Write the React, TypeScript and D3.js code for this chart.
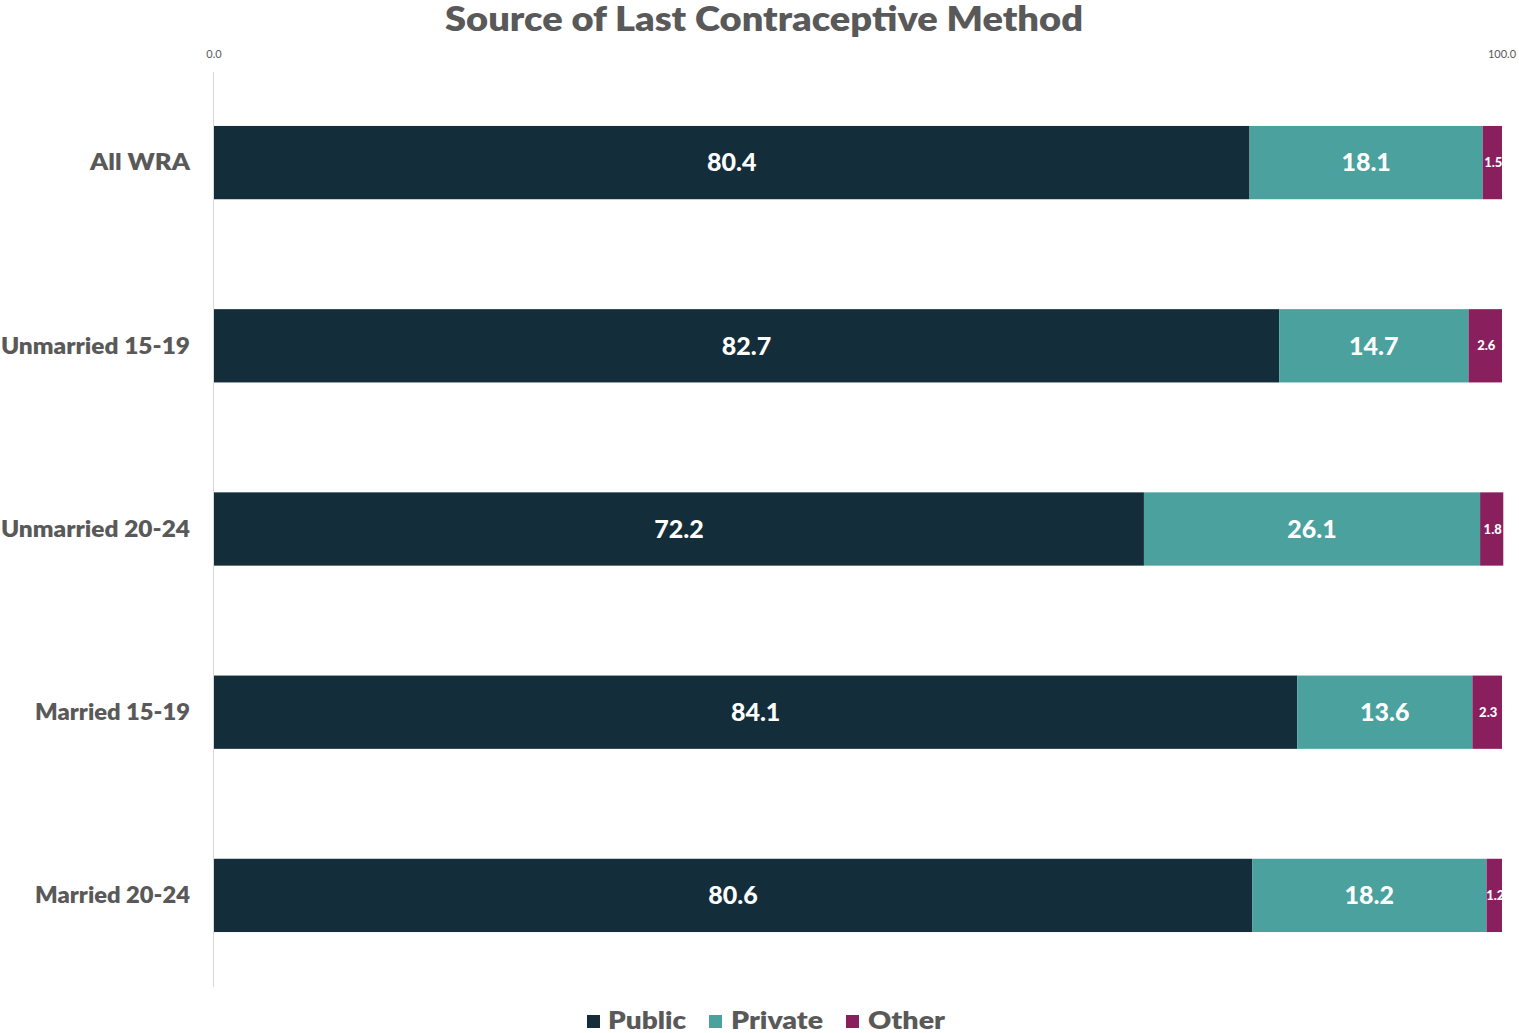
import React from "react";
import * as d3 from "d3";

const categories = ["All WRA", "Unmarried 15-19", "Unmarried 20-24", "Married 15-19", "Married 20-24"];
const categoryLabelWidths = [100, 189, 189, 155, 155];
const seriesNames = ["Public", "Private", "Other"];
const publicValues = [80.4, 82.7, 72.2, 84.1, 80.6];
const privateValues = [18.1, 14.7, 26.1, 13.6, 18.2];
const otherValues = [1.5, 2.6, 1.8, 2.3, 1.2];
const tickValues = [0, 100];
const colors = ["#132d3a", "#4aa19e", "#8a1f5e"];

const W = 1519;
const H = 1033;
const FONT = "Lato, 'Open Sans', sans-serif";
const GRAY = "#595959";

export default function App() {
  const x = d3.scaleLinear().domain([0, 100]).range([214, 1502]);
  const y = d3.scaleBand<string>().domain(categories).range([71, 987]).paddingInner(0.6).paddingOuter(0.3);
  const rows = categories.map((c, i) => ({ cat: c, Public: publicValues[i], Private: privateValues[i], Other: otherValues[i] }));
  const stack = d3.stack<any>().keys(seriesNames);
  const layers = stack(rows);
  const bw = y.bandwidth();

  const legendItems = [
    { sx: 587, tx: 608, w: 78 },
    { sx: 709, tx: 731, w: 92 },
    { sx: 846, tx: 868, w: 77 },
  ];

  return (
    <svg width={W} height={H} style={{ position: "absolute", left: 0, top: 0, background: "#fff" }} fontFamily={FONT}>
      <defs>
        <clipPath id="plotclip">
          <rect x={214} y={60} width={1288} height={930} />
        </clipPath>
      </defs>
      <text x={445} y={31} fontSize={34} fontWeight={800} fill={GRAY} textLength={638} lengthAdjust="spacingAndGlyphs">
        Source of Last Contraceptive Method
      </text>
      {tickValues.map((t) => (
        <text key={t} x={x(t)} y={58} textAnchor="middle" fontSize={11} fill={GRAY}>
          {t.toFixed(1)}
        </text>
      ))}
      <line x1={213.5} x2={213.5} y1={72} y2={987} stroke="#d9d9d9" strokeWidth={1} />
      {layers.map((layer, li) => (
        <g key={layer.key} fill={colors[li]}>
          {layer.map((d, i) => (
            <rect key={i} x={x(d[0])} y={y(categories[i])!} width={x(d[1]) - x(d[0])} height={bw} />
          ))}
        </g>
      ))}
      <g clipPath="url(#plotclip)">
        {layers.map((layer, li) => (
          <g key={layer.key}>
            {layer.map((d, i) => {
              const v = d[1] - d[0];
              const small = li === 2;
              return (
                <text
                  key={i}
                  x={(x(d[0]) + x(d[1])) / 2 + (small ? 1 : 0)}
                  y={y(categories[i])! + bw / 2}
                  dy="0.35em"
                  textAnchor="middle"
                  fontSize={small ? 13 : 25}
                  fontWeight={900}
                  fill="#fff"
                >
                  {v.toFixed(1)}
                </text>
              );
            })}
          </g>
        ))}
      </g>
      {categories.map((c, i) => (
        <text
          key={c}
          x={190 - categoryLabelWidths[i]}
          y={y(c)! + bw / 2}
          dy="0.35em"
          fontSize={22}
          fontWeight={800}
          fill={GRAY}
          textLength={categoryLabelWidths[i]}
          lengthAdjust="spacingAndGlyphs"
        >
          {c}
        </text>
      ))}
      {legendItems.map((l, i) => (
        <g key={seriesNames[i]}>
          <rect x={l.sx} y={1015} width={13} height={13} fill={colors[i]} />
          <text x={l.tx} y={1029} fontSize={25} fontWeight={800} fill={GRAY} textLength={l.w} lengthAdjust="spacingAndGlyphs">
            {seriesNames[i]}
          </text>
        </g>
      ))}
    </svg>
  );
}
